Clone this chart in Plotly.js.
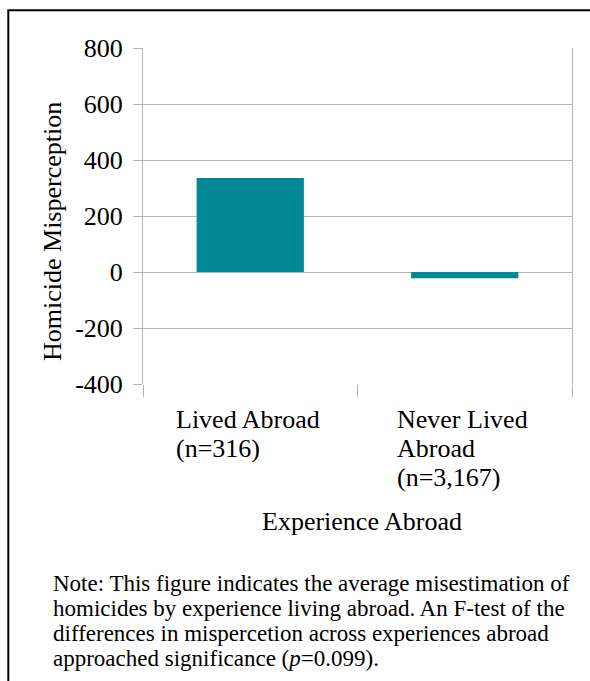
<!DOCTYPE html>
<html><head><meta charset="utf-8">
<script src="https://cdn.plot.ly/plotly-3.0.1.min.js"></script>
<style>html,body{margin:0;padding:0;background:#fff;}#chart{width:590px;height:681px;}</style>
</head><body><div id="chart"></div>
<script>
// ---- data ----
const categories = ["Lived Abroad (n=316)", "Never Lived Abroad (n=3,167)"];
const categoryLabelLines = [["Lived Abroad", "(n=316)"], ["Never Lived", "Abroad", "(n=3,167)"]];
const misperception = [336, -22];
const yTickValues = [-400, -200, 0, 200, 400, 600, 800];
const yTickLabels = ["-400", "-200", "0", "200", "400", "600", "800"];
const yTitle = "Homicide Misperception";
const xTitle = "Experience Abroad";
const noteLines = [
  "Note: This figure indicates the average misestimation of",
  "homicides by experience living abroad. An F-test of the",
  "differences in mispercetion across experiences abroad",
  "approached significance (<i>p</i>=0.099)."
];

// ---- layout geometry ----
const W = 590, H = 681, L = 143, R = 18, T = 48, B = 297;
const PW = W - L - R, PH = H - T - B;
const px = v => (v - L) / PW;
const py = v => (H - B - v) / PH;
const FONT = '"Liberation Serif", "Times New Roman", serif';
const GRID = '#b3b3b3';

const ctx = document.createElement('canvas').getContext('2d');
ctx.font = '26px "Liberation Serif"';

const annotations = [];
categoryLabelLines.forEach((lines, i) => {
  const wmax = Math.max(...lines.map(s => ctx.measureText(s).width));
  lines.forEach((s, j) => {
    annotations.push({
      text: s, xref: 'x', x: categories[i], xanchor: 'left', xshift: -wmax / 2 - 4,
      yref: 'paper', y: py(419 + 29.3 * j), yanchor: 'middle',
      showarrow: false, font: {family: FONT, size: 26, color: '#000'}
    });
  });
});
annotations.push({
  text: xTitle, xref: 'paper', x: px(362), xanchor: 'center',
  yref: 'paper', y: py(521), yanchor: 'middle', showarrow: false,
  font: {family: FONT, size: 26, color: '#000'}
});
annotations.push({
  text: yTitle, textangle: -90, xref: 'paper', x: px(52), xanchor: 'center',
  yref: 'paper', y: py(232), yanchor: 'middle', showarrow: false,
  font: {family: FONT, size: 26, color: '#000'}
});
noteLines.forEach((s, j) => {
  annotations.push({
    text: s, xref: 'paper', x: px(51), xanchor: 'left',
    yref: 'paper', y: py(583 + 25.2 * j), yanchor: 'middle', showarrow: false,
    font: {family: FONT, size: 23, color: '#000'}
  });
});

const data = [{
  type: 'bar', x: categories, y: misperception,
  marker: {color: '#008896', line: {width: 0}},
  hoverinfo: 'skip'
}];

const layout = {
  width: W, height: H,
  margin: {l: L, r: R, t: T, b: B, pad: 0},
  paper_bgcolor: '#fff', plot_bgcolor: '#fff',
  showlegend: false, bargap: 0.5,
  font: {family: FONT, size: 26, color: '#000'},
  xaxis: {
    type: 'category', range: [-0.5, 1.5], showticklabels: false,
    tickson: 'boundaries', ticks: 'outside', ticklen: 12, tickcolor: GRID, tickwidth: 1,
    showgrid: false, showline: false, zeroline: false, fixedrange: true
  },
  yaxis: {
    range: [-400, 800], tickvals: yTickValues, ticktext: yTickLabels,
    ticks: 'outside', ticklen: 9, tickcolor: GRID, tickwidth: 1,
    ticklabelstandoff: 5,
    tickfont: {family: FONT, size: 26, color: '#000'},
    showgrid: true, gridcolor: GRID, gridwidth: 1,
    showline: true, mirror: true, linecolor: GRID, linewidth: 1,
    zeroline: false, fixedrange: true
  },
  annotations: annotations,
  shapes: [{
    type: 'path', xref: 'paper', yref: 'paper',
    path: `M ${px(8.3)} ${py(700)} L ${px(8.3)} ${py(10.3)} L ${px(600)} ${py(10.3)}`,
    line: {color: '#000', width: 2}
  }]
};

Plotly.newPlot('chart', data, layout, {staticPlot: true, displayModeBar: false});
</script></body></html>
